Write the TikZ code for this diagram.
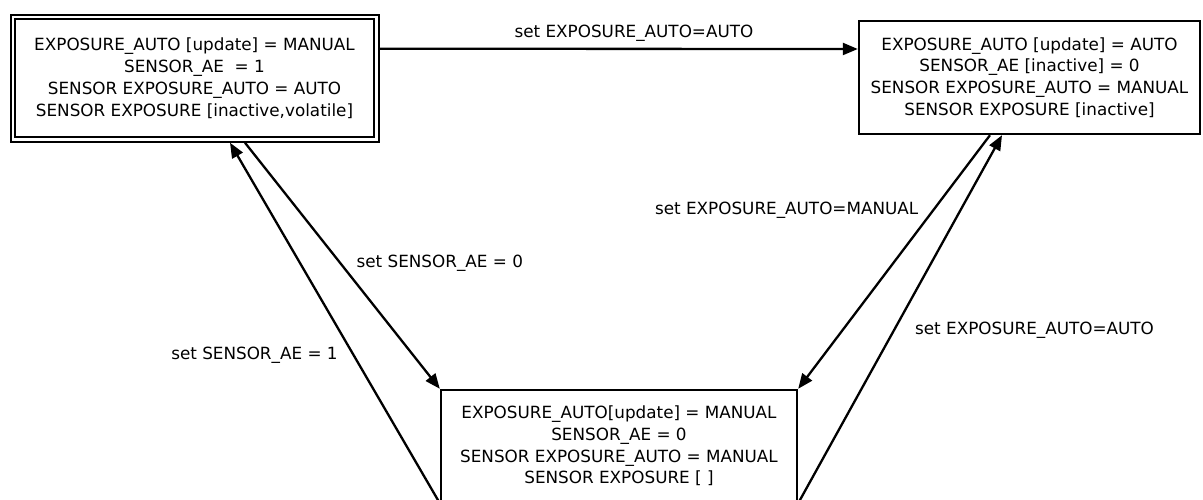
\documentclass[tikz,border=0pt]{standalone}
\usepackage{fontspec}
\setmainfont{DejaVu Sans}
\usetikzlibrary{arrows.meta}
\begin{document}
\begin{tikzpicture}[x=1pt,y=1pt,
  txt/.style={font=\fontsize{16.8}{21.7}\selectfont},
  state/.style={txt, draw, line width=2.4pt, outer sep=1.2pt, align=center, inner sep=0pt},
  dstate/.style={txt, draw, double, line width=2pt, double distance=2.5pt, outer sep=3.25pt, align=center, inner sep=0pt},
  arr/.style={line width=2.3pt, -{Triangle[length=15pt,width=12pt]}},
  lbl/.style={txt, inner sep=0pt}]
\useasboundingbox (0,0) rectangle (1203,500);
\clip (0,0) rectangle (1203,500);
\node[dstate, minimum width=363.5pt, minimum height=122.5pt] (tl) at (194.5,421.75)
  {EXPOSURE\_AUTO [update] = MANUAL\\SENSOR\_AE \ = 1\\SENSOR EXPOSURE\_AUTO = AUTO\\SENSOR EXPOSURE [inactive,volatile]};
\node[state, minimum width=341pt, minimum height=113pt] (tr) at (1029.5,422.5)
  {EXPOSURE\_AUTO [update] = AUTO\\SENSOR\_AE [inactive] = 0\\SENSOR EXPOSURE\_AUTO = MANUAL\\SENSOR EXPOSURE [inactive]};
\node[state, minimum width=356pt, minimum height=112pt] (bot) at (619,54)
  {EXPOSURE\_AUTO[update] = MANUAL\\SENSOR\_AE = 0\\SENSOR EXPOSURE\_AUTO = MANUAL\\SENSOR EXPOSURE [ ]};
\draw[arr] ([yshift=29.5pt]tl.east) -- ([yshift=28.5pt]tr.west)
  node[lbl, pos=0.532, yshift=16pt] {set EXPOSURE\_AUTO=AUTO};
\draw[arr] ([xshift=50.5pt]tl.south) -- (bot.north west)
  node[lbl, pos=0.49, anchor=west, xshift=15pt] {set SENSOR\_AE = 0};
\draw[arr] (bot.south west) -- ([xshift=35.5pt]tl.south)
  node[lbl, pos=0.41, anchor=east, xshift=-15pt] {set SENSOR\_AE = 1};
\draw[arr] ([xshift=-39.5pt]tr.south) -- (bot.north east)
  node[lbl, pos=0.295, anchor=east, xshift=-14pt] {set EXPOSURE\_AUTO=MANUAL};
\draw[arr] (bot.south east) -- ([xshift=-27.5pt]tr.south)
  node[lbl, pos=0.47, anchor=west, xshift=20pt] {set EXPOSURE\_AUTO=AUTO};
\end{tikzpicture}
\end{document}
